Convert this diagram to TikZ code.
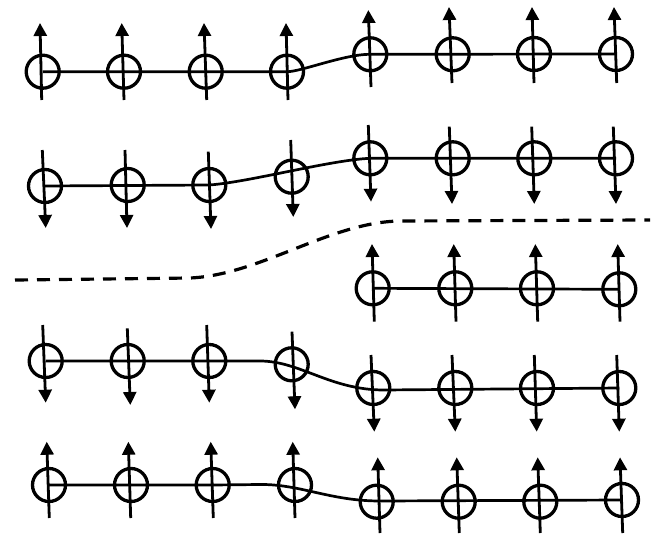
\documentclass[tikz,border=0pt]{standalone}
\usetikzlibrary{arrows.meta}
\begin{document}
\begin{tikzpicture}[x=1pt,y=-1pt,
  spin/.style={circle,draw=black,line width=3.3pt,minimum size=33pt,inner sep=0pt},
  spinarrow/.style={line width=2.8pt,-{Triangle[length=13pt,width=13pt]}},
  chain/.style={line width=2.7pt},
  boundary/.style={line width=3.2pt,dash pattern=on 13pt off 9pt}]
\useasboundingbox (0,0) rectangle (656,535);
% row 1
\foreach \n/\x/\y in {1/42.7/71.7,2/124/71.7,3/205.7/71.7,4/287/71.7,5/370.3/54.3,6/452.7/54.3,7/534/54,8/616/54}
  \node[spin] (a\n) at (\x,\y) {};
% row 2
\foreach \n/\x/\y in {1/45/186,2/127.7/185,3/209.3/185,4/291.7/176.7,5/370.3/158.3,6/452.7/158.3,7/534.3/158.3,8/616/158.3}
  \node[spin] (b\n) at (\x,\y) {};
% row 3
\foreach \n/\x/\y in {1/372.7/288.3,2/455.3/288.3,3/537/288.3,4/619.3/289.3}
  \node[spin] (c\n) at (\x,\y) {};
% row 4
\foreach \n/\x/\y in {1/45.7/361,2/127.7/361,3/209.3/361,4/291.7/364.3,5/373.3/388,6/455.3/388,7/537/388,8/619.3/388}
  \node[spin] (d\n) at (\x,\y) {};
% row 5
\foreach \n/\x/\y in {1/49/485,2/131/485,3/212.7/485,4/295/485,5/376.7/501.7,6/458.7/501.7,7/540.3/501.7,8/622/500}
  \node[spin] (e\n) at (\x,\y) {};
% chains
\draw[chain] (a1.center) -- (a4.center) .. controls (300,72) and (345,54) .. (a5.center) -- (a8.center);
\draw[chain] (b1.center) -- (b3.center) .. controls (250,182) and (330,160) .. (b5.center) -- (b8.center);
\draw[chain] (c1.center) -- (c4.center);
\draw[chain] (d1.center) -- (d3.center) -- (260,361) .. controls (300,361) and (330,390) .. (384,390) -- (d8.center);
\draw[chain] (e1.center) -- (e3.center) -- (260,484.5) .. controls (300,484) and (330,501) .. (380,501) -- (e8.center);
% domain boundary
\coordinate (bl) at (15,280);
\coordinate (br) at (650,220);
\draw[boundary] (bl) -- (190,278) .. controls (260,275) and (330,222) .. (400,221) -- (br);
% spin arrows row 1 (up)
\draw[spinarrow] (41.7,100) -- (40,23);
\draw[spinarrow] (124,100) -- (121.7,23);
\draw[spinarrow] (206.7,100) -- (204,23);
\draw[spinarrow] (288,100) -- (286,23);
\draw[spinarrow] (371,87) -- (368.3,10);
\draw[spinarrow] (452,83) -- (449,7);
\draw[spinarrow] (534,83) -- (532,7);
\draw[spinarrow] (616.7,83) -- (614,7);
% row 2 (down)
\draw[spinarrow] (42.3,150) -- (45.7,228);
\draw[spinarrow] (125,150) -- (127,228);
\draw[spinarrow] (208.3,151.7) -- (211,229);
\draw[spinarrow] (290.7,140) -- (293.3,217);
\draw[spinarrow] (368.3,125) -- (371,201.7);
\draw[spinarrow] (449.3,126.7) -- (452,204);
\draw[spinarrow] (531.7,126.7) -- (534.3,204);
\draw[spinarrow] (613.3,126.7) -- (616,204);
% row 3 (up)
\draw[spinarrow] (374.3,321.7) -- (372,244);
\draw[spinarrow] (456,321.7) -- (453.7,244);
\draw[spinarrow] (537.7,321.7) -- (535.3,244);
\draw[spinarrow] (620,321.7) -- (617.7,244);
% row 4 (down)
\draw[spinarrow] (42.7,325) -- (45.7,402.7);
\draw[spinarrow] (127.3,328.3) -- (130.3,405);
\draw[spinarrow] (206.7,325) -- (209.3,402.7);
\draw[spinarrow] (292,331.7) -- (295,409.3);
\draw[spinarrow] (371,355) -- (374.3,431.7);
\draw[spinarrow] (452,355) -- (455.3,431.7);
\draw[spinarrow] (534.3,355) -- (536.7,431.7);
\draw[spinarrow] (616.7,355) -- (619.3,431.7);
% row 5 (up)
\draw[spinarrow] (49.3,518) -- (46.7,441.7);
\draw[spinarrow] (130.7,518) -- (128.3,441.7);
\draw[spinarrow] (213.3,518) -- (210.7,441.7);
\draw[spinarrow] (295,518) -- (292.7,441.7);
\draw[spinarrow] (380,533) -- (377.7,457.3);
\draw[spinarrow] (459.3,533) -- (456.7,457.3);
\draw[spinarrow] (540.3,533) -- (537.7,457.3);
\draw[spinarrow] (622.7,533) -- (620,457.3);
\end{tikzpicture}
\end{document}
